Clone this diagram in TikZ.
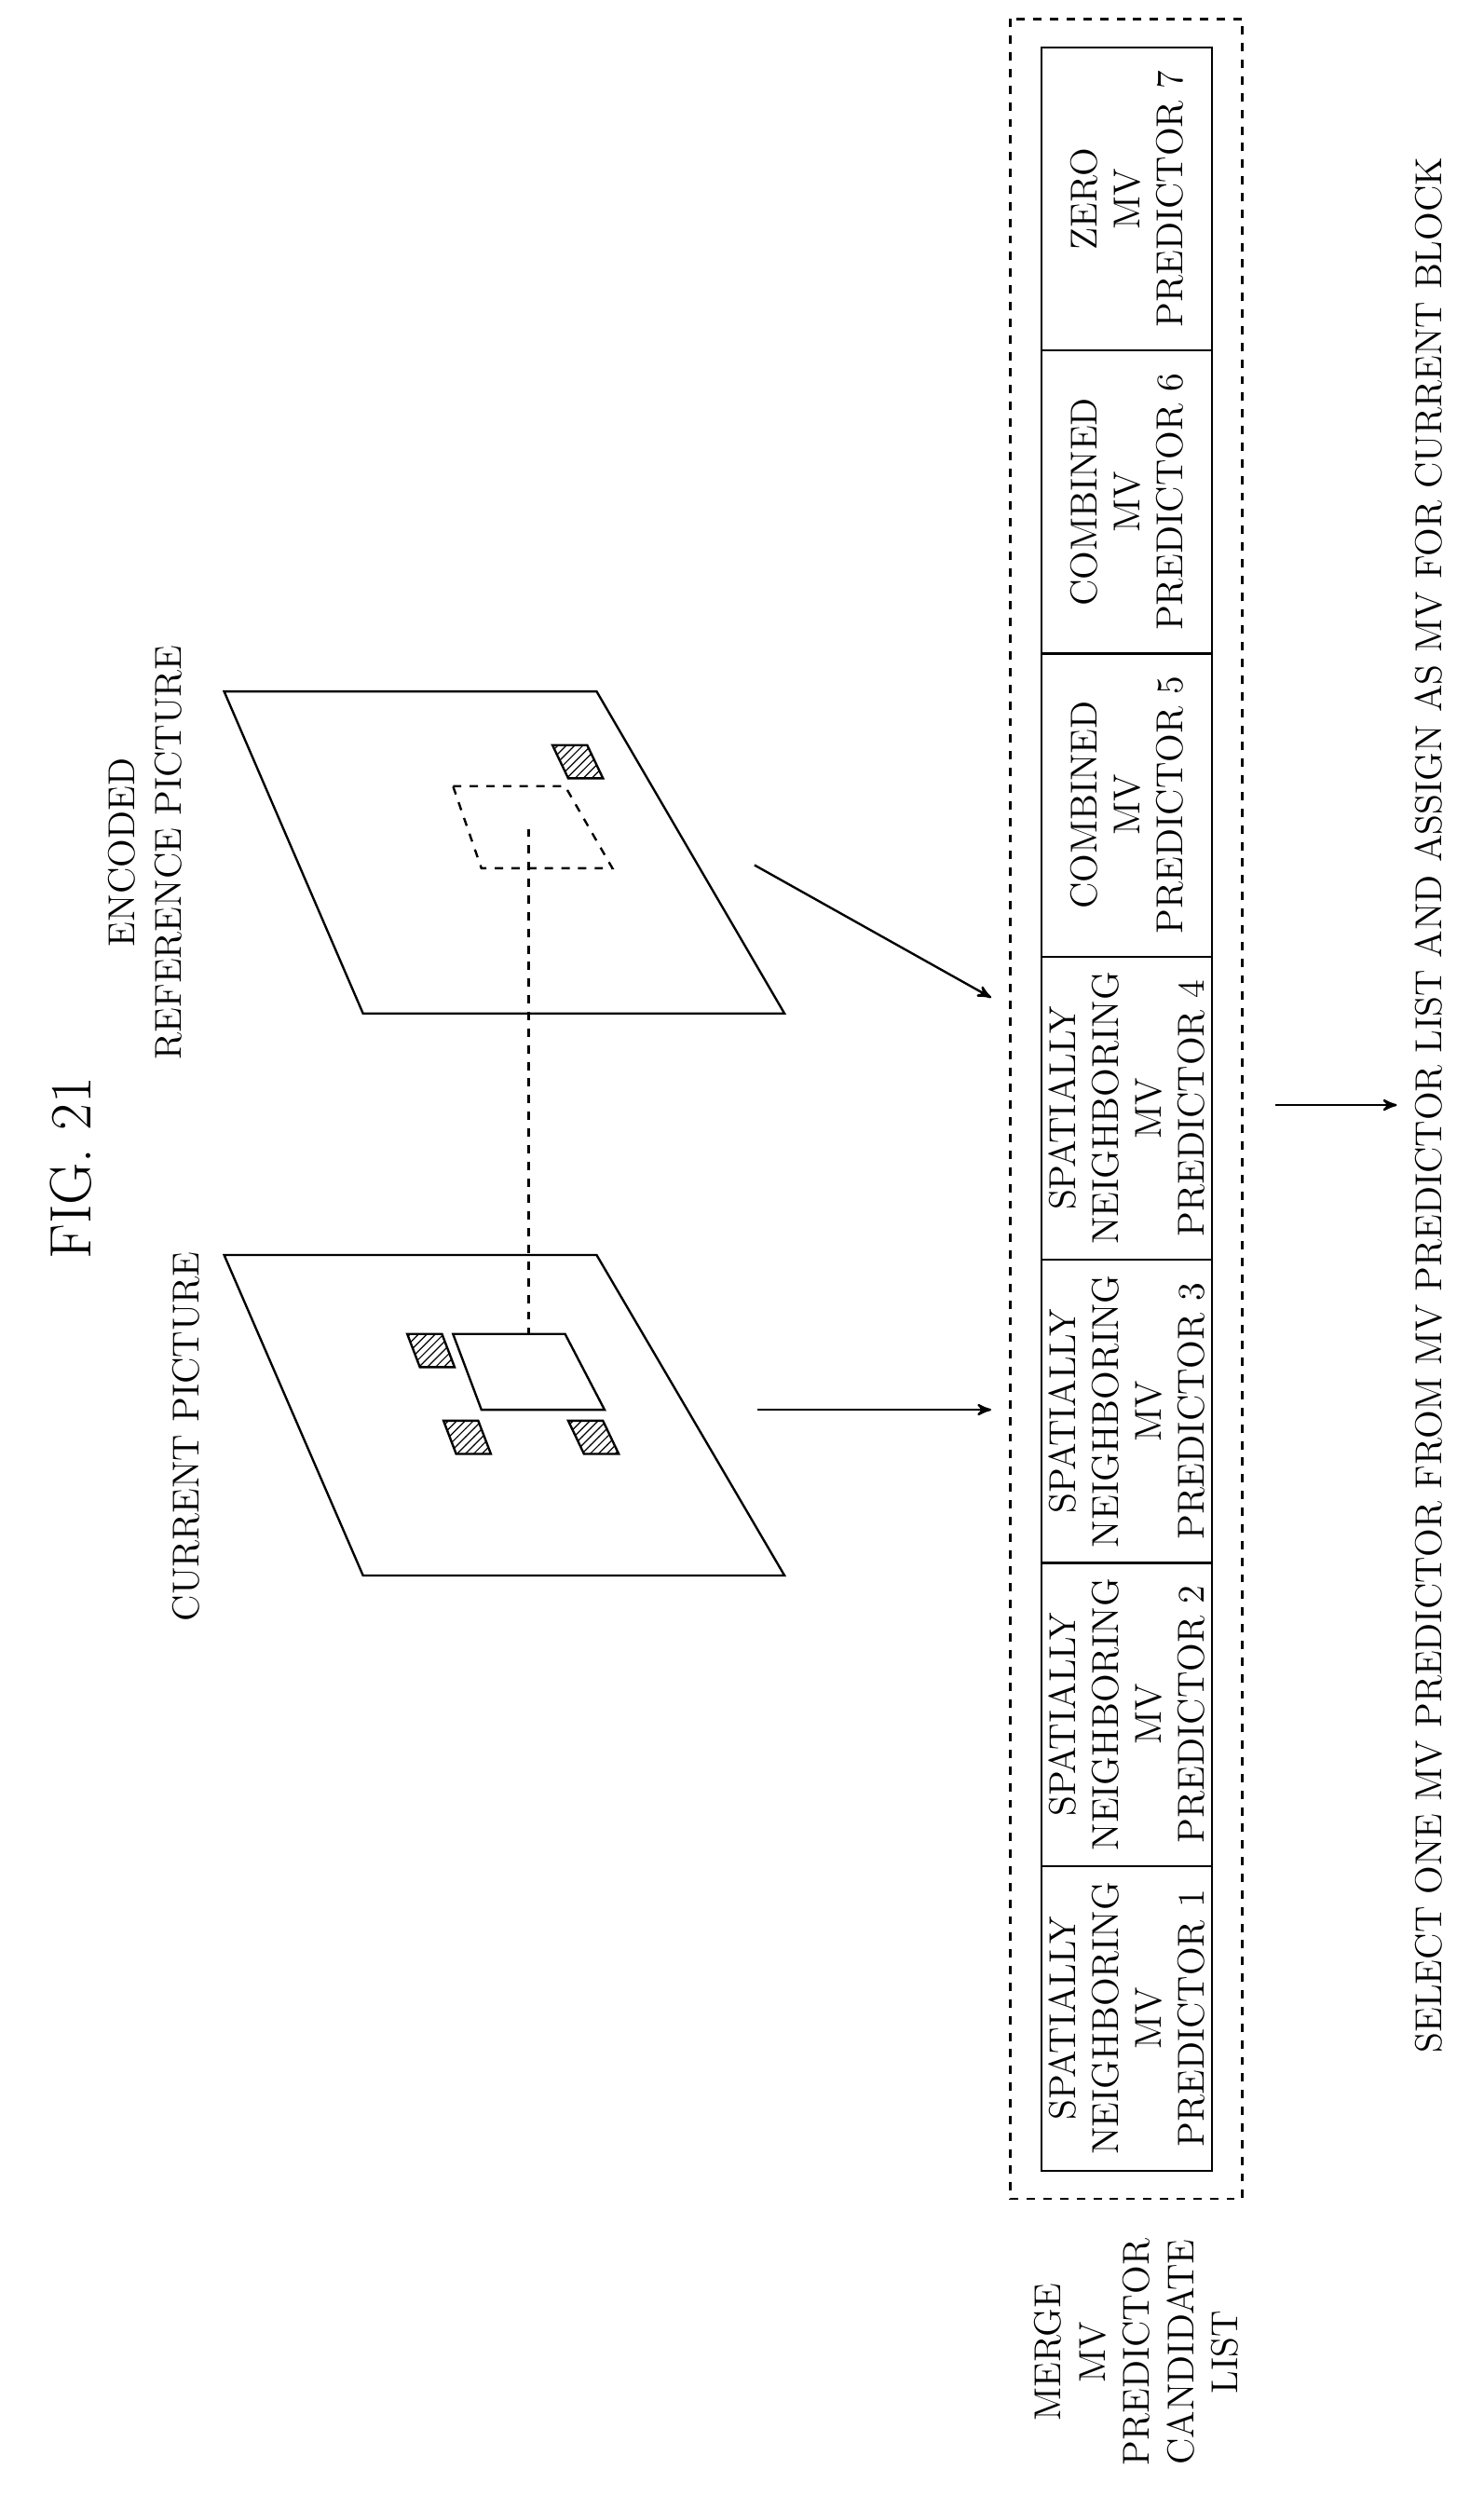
\documentclass[tikz,border=0pt]{standalone}
\usepackage{tikz}
\usetikzlibrary{arrows,patterns,positioning}
\begin{document}
\begin{tikzpicture}[x=0.02cm,y=-0.02cm,line width=0.8pt,
  lbl/.style={rotate=90,inner sep=0pt,align=center,font=\fontsize{13.5}{15.4}\selectfont},
  hatch/.style={draw,pattern=north east lines},
  arr/.style={->,>=stealth'}]
\useasboundingbox (0,0) rectangle (940,1590);
% titles
\node[lbl,font=\fontsize{21}{24}\selectfont] (fig) at (45,740) {FIG. 21};
\node[lbl] (curlbl) at (118,910) {CURRENT PICTURE};
\node[lbl,font=\fontsize{13.5}{17}\selectfont] (reflbl) at (92,540) {ENCODED\\REFERENCE PICTURE};
% current picture
\draw (142,795) -- (378,795) -- (497,998) -- (230,998) -- cycle;
\draw (287,845) -- (358,845) -- (383,893) -- (305,893) -- cycle;
\coordinate (curblk) at (335,845);
\draw[hatch] (258,845) -- (280,845) -- (288,866) -- (266,866) -- cycle;
\draw[hatch] (281,900) -- (303,900) -- (311,921) -- (289,921) -- cycle;
\draw[hatch] (360,900) -- (382,900) -- (392,921) -- (370,921) -- cycle;
% reference picture
\draw (142,438) -- (378,438) -- (497,642) -- (230,642) -- cycle;
\draw[dashed] (287,498) -- (358,498) -- (388,550) -- (305,550) -- cycle;
\coordinate (refblk) at (335,525);
\draw[hatch] (350,472) -- (372,472) -- (382,493) -- (360,493) -- cycle;
\draw[dashed] (refblk) -- (curblk);
% candidate list
\draw[dashed] (640,12) rectangle (787,1393);
\coordinate (curout) at (480,893);
\coordinate (curin) at (628,893);
\coordinate (refout) at (478,548);
\coordinate (refin) at (628,632);
\draw[arr] (curout) -- (curin);
\draw[arr] (refout) -- (refin);
\draw (660,30) rectangle (768,1375);
\foreach \y in {222,414,606,798,990,1182} \draw (660,\y) -- (768,\y);
\foreach \y/\t in {1278.5/{SPATIALLY\\NEIGHBORING\\MV\\PREDICTOR 1},
  1086/{SPATIALLY\\NEIGHBORING\\MV\\PREDICTOR 2},
  894/{SPATIALLY\\NEIGHBORING\\MV\\PREDICTOR 3},
  702/{SPATIALLY\\NEIGHBORING\\MV\\PREDICTOR 4},
  510/{COMBINED\\MV\\PREDICTOR 5},
  318/{COMBINED\\MV\\PREDICTOR 6},
  126/{ZERO\\MV\\PREDICTOR 7}}
  \node[lbl] at (714,\y) {\t};
\node[lbl,font=\fontsize{13.5}{16}\selectfont] (listlbl) at (720,1490) {MERGE\\MV\\PREDICTOR\\CANDIDATE\\LIST};
% selection
\coordinate (selout) at (808,700);
\coordinate (selin) at (885,700);
\draw[arr] (selout) -- (selin);
\node[lbl] (sel) at (905,700) {SELECT ONE MV PREDICTOR FROM MV PREDICTOR LIST AND ASSIGN AS MV FOR CURRENT BLOCK};
\end{tikzpicture}
\end{document}
